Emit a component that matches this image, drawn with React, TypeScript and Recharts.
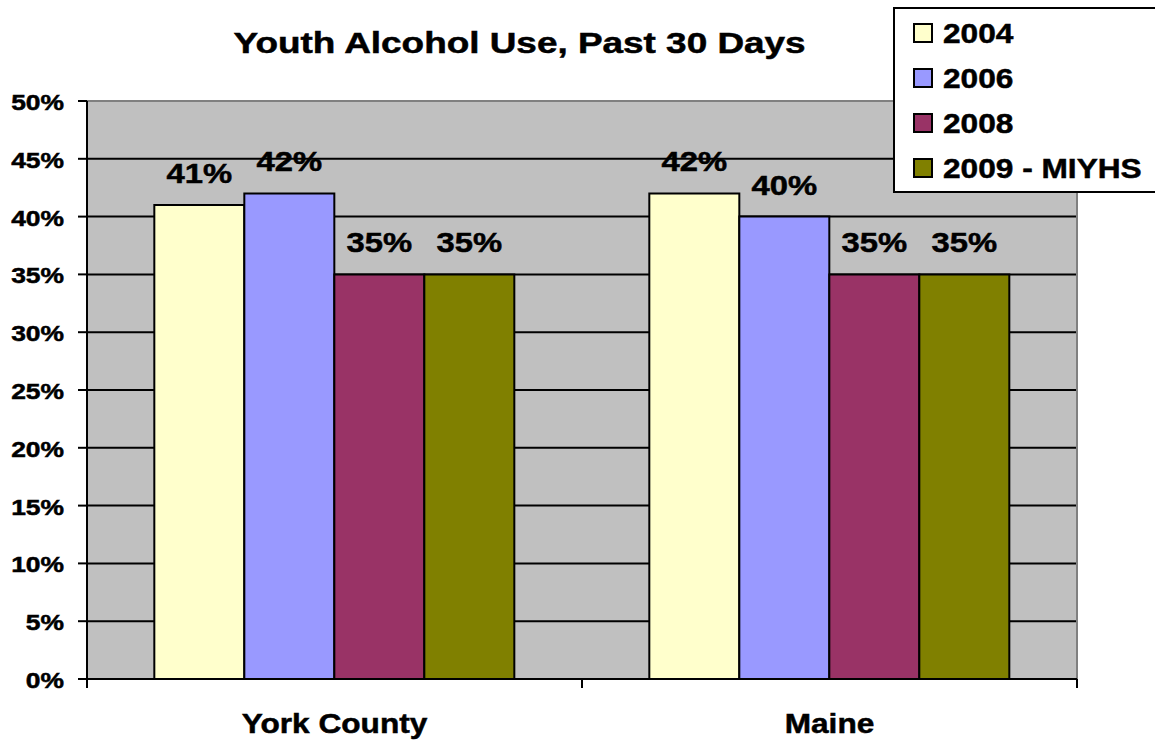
import { BarChart, Bar, XAxis, YAxis, CartesianGrid, Legend, LabelList, ReferenceArea } from "recharts";

const categories = ["York County", "Maine"];
const seriesNames = ["2004", "2006", "2008", "2009 - MIYHS"];
const seriesColors = ["#FFFFCC", "#9999FF", "#993366", "#808000"];
const values2004 = [41, 42];
const values2006 = [42, 40];
const values2008 = [35, 35];
const values2009 = [35, 35];
const yTicks = [0, 5, 10, 15, 20, 25, 30, 35, 40, 45, 50];
const gridLines = [5, 10, 15, 20, 25, 30, 35, 40, 45];

const seriesValues = [values2004, values2006, values2008, values2009];
const data = categories.map((name, i) => {
  const row: Record<string, any> = { name };
  seriesNames.forEach((s, j) => (row[s] = seriesValues[j][i]));
  return row;
});

const W = 1155;
const H = 745;
const LEFT = 87;
const RIGHT = 78;
const TOP = 101;
const BOTTOM = 66;
const PLOT_W = W - LEFT - RIGHT;
const FONT = "'Liberation Sans', Arial, sans-serif";

const YTick = (props: any) => {
  const { x, y, payload } = props;
  return (
    <text
      transform={`translate(${x},${y + 9}) scale(1.2,1)`}
      textAnchor="end"
      fontSize={22}
      fontWeight="bold"
      fontFamily={FONT}
      fill="#000"
      stroke="#000"
      strokeWidth={0.5}
    >
      {payload.value}%
    </text>
  );
};

const XTick = (props: any) => {
  const { x, y, payload, index } = props;
  const half = PLOT_W / categories.length / 2;
  return (
    <g>
      <line x1={x - half} x2={x - half} y1={y} y2={y + 9} stroke="#000" strokeWidth={2} />
      {index === categories.length - 1 && (
        <line x1={x + half} x2={x + half} y1={y} y2={y + 9} stroke="#000" strokeWidth={2} />
      )}
      <text
        transform={`translate(${x},${y + 54}) scale(1.13,1)`}
        textAnchor="middle"
        fontSize={28}
        fontWeight="bold"
        fontFamily={FONT}
        fill="#000"
        stroke="#000"
        strokeWidth={0.5}
      >
        {payload.value}
      </text>
    </g>
  );
};

const renderLabel = (props: any) => {
  const { x, y, width, value } = props;
  return (
    <text
      transform={`translate(${x + width / 2},${y - 22}) scale(1.17,1)`}
      textAnchor="middle"
      fontSize={28}
      fontWeight="bold"
      fontFamily={FONT}
      fill="#000"
      stroke="#000"
      strokeWidth={0.5}
    >
      {value}%
    </text>
  );
};

// legend box runs off the right edge in the original, so no right border
const renderLegend = (props: any) => {
  const { payload } = props;
  return (
    <div
      style={{
        borderTop: "2px solid #000",
        borderLeft: "2px solid #000",
        borderBottom: "2px solid #000",
        background: "#fff",
        width: 320,
        height: 186,
        boxSizing: "border-box",
        paddingTop: 2,
        fontFamily: FONT,
      }}
    >
      {(payload || []).map((p: any) => (
        <div key={p.value} style={{ height: 45, display: "flex", alignItems: "center" }}>
          <div
            style={{
              width: 20,
              height: 20,
              boxSizing: "border-box",
              border: "2px solid #000",
              background: p.color,
              marginLeft: 18,
              marginTop: -2,
            }}
          />
          <span
            style={{
              marginLeft: 10,
              fontSize: 28,
              lineHeight: "45px",
              fontWeight: "bold",
              color: "#000",
              display: "inline-block",
              transform: "scaleX(1.13)",
              transformOrigin: "left center",
              whiteSpace: "nowrap",
              WebkitTextStroke: "0.5px #000",
            }}
          >
            {p.value}
          </span>
        </div>
      ))}
    </div>
  );
};

export default function App() {
  return (
    <div style={{ position: "absolute", left: 0, top: 0, width: W, height: H, background: "#fff", overflow: "hidden" }}>
      <div
        style={{
          position: "absolute",
          left: 0,
          width: 1040,
          top: 28,
          textAlign: "center",
          fontFamily: FONT,
          fontSize: 30,
          lineHeight: "30px",
          fontWeight: "bold",
          color: "#000",
          WebkitTextStroke: "0.5px #000",
        }}
      >
        <span style={{ display: "inline-block", transform: "scaleX(1.23)", whiteSpace: "nowrap" }}>
          Youth Alcohol Use, Past 30 Days
        </span>
      </div>
      <BarChart
        width={W}
        height={H}
        data={data}
        margin={{ top: TOP, right: RIGHT, bottom: 0, left: 0 }}
        barCategoryGap="13.6%"
        barGap={0}
        style={{ overflow: "hidden" }}
      >
        <CartesianGrid
          vertical={false}
          horizontalValues={gridLines}
          stroke="#000"
          strokeWidth={2}
          fill="#C0C0C0"
          fillOpacity={1}
        />
        <ReferenceArea y1={0} y2={50} fill="none" stroke="#808080" strokeWidth={2} ifOverflow="visible" />
        <XAxis
          dataKey="name"
          height={BOTTOM}
          axisLine={{ stroke: "#000", strokeWidth: 2 }}
          tickLine={false}
          tickSize={0}
          tickMargin={0}
          tick={<XTick />}
          interval={0}
        />
        <YAxis
          width={LEFT}
          domain={[0, 50]}
          ticks={yTicks}
          interval={0}
          axisLine={{ stroke: "#000", strokeWidth: 2 }}
          tickLine={{ stroke: "#000", strokeWidth: 2 }}
          tickSize={9}
          tickMargin={14}
          tick={<YTick />}
        />
        <Legend
          layout="vertical"
          align="center"
          verticalAlign="middle"
          content={renderLegend}
          wrapperStyle={{ left: 893, top: 7, width: 320 }}
        />
        {seriesNames.map((s, i) => (
          <Bar key={s} dataKey={s} fill={seriesColors[i]} stroke="#000" strokeWidth={2} isAnimationActive={false}>
            <LabelList dataKey={s} content={renderLabel} />
          </Bar>
        ))}
      </BarChart>
    </div>
  );
}
